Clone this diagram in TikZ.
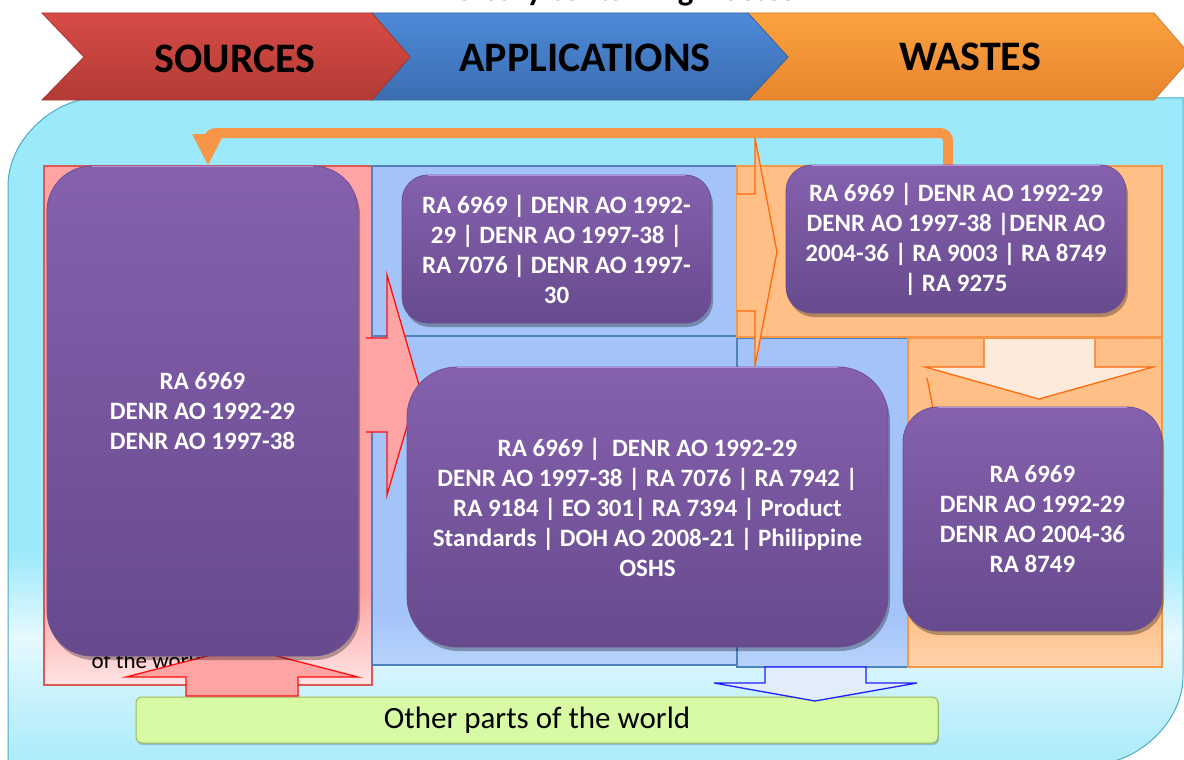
\documentclass[tikz,border=0pt]{standalone}
\usepackage{fontspec}
\setmainfont{Carlito}
\usetikzlibrary{shadows}

% palette
\definecolor{bgTop}{HTML}{9CE9FB}
\definecolor{bgLight}{HTML}{E6F9FE}
\definecolor{bgMid}{HTML}{C4F1FC}
\definecolor{bgLo}{HTML}{ABEBFA}
\definecolor{bgEdge}{HTML}{4BACC6}
\definecolor{redT}{HTML}{D84B46}
\definecolor{redB}{HTML}{B23B35}
\definecolor{redE}{HTML}{A8352F}
\definecolor{blueT}{HTML}{4C8AD8}
\definecolor{blueB}{HTML}{3C6DB1}
\definecolor{blueE}{HTML}{36639F}
\definecolor{oraT}{HTML}{FBA23F}
\definecolor{oraB}{HTML}{E8852E}
\definecolor{oraE}{HTML}{D7782A}
\definecolor{regBlue}{HTML}{A4C3F8}
\definecolor{blueLo}{HTML}{B8D4FC}
\definecolor{regBlueEdge}{HTML}{4F81BD}
\definecolor{regOrange}{HTML}{FFBF87}
\definecolor{orangeLo}{HTML}{FFD3AC}
\definecolor{regOrangeEdge}{HTML}{F79646}
\definecolor{pinkFill}{HTML}{FFA4A4}
\definecolor{pinkLo}{HTML}{FFE4E4}
\definecolor{pinkEdge}{HTML}{DB5A57}
\definecolor{fbOrange}{HTML}{F79646}
\definecolor{arrowRed}{HTML}{FF1010}
\definecolor{arrowOrange}{HTML}{FF6A0A}
\definecolor{arrowBlue}{HTML}{1E1EFF}
\definecolor{downFill}{HTML}{FDEADB}
\definecolor{blueDownFill}{HTML}{E2EDFC}
\definecolor{pTop}{HTML}{8561AE}
\definecolor{pBot}{HTML}{674A8D}
\definecolor{pEdge}{HTML}{6C5094}
\definecolor{pHi}{HTML}{B592DD}
\definecolor{greenFill}{HTML}{D8FAA4}
\definecolor{greenEdge}{HTML}{9BBB59}

% soft fades towards the lower edges
\pgfdeclareverticalshading{bgfade}{100bp}{color(0bp)=(bgLo); color(25bp)=(bgLo); color(29.5bp)=(bgMid); color(34.5bp)=(bgLight); color(41bp)=(bgTop); color(100bp)=(bgTop)}
\pgfdeclareverticalshading{srcfade}{100bp}{color(0bp)=(pinkLo); color(25bp)=(pinkLo); color(34bp)=(pinkFill); color(100bp)=(pinkFill)}
\pgfdeclareverticalshading{appfade}{100bp}{color(0bp)=(blueLo); color(25bp)=(blueLo); color(33bp)=(regBlue); color(100bp)=(regBlue)}
\pgfdeclareverticalshading{wastefade}{100bp}{color(0bp)=(orangeLo); color(25bp)=(orangeLo); color(33bp)=(regOrange); color(100bp)=(regOrange)}

\newcommand\pbfont{\fontsize{25}{30}\selectfont\bfseries}
\newcommand\headfont{\fontsize{42}{50}\selectfont\bfseries}

\begin{document}
\begin{tikzpicture}[x=1pt,y=-1pt,
  region/.style={rectangle, anchor=north west, inner sep=0pt, outer sep=0pt, line width=1.2pt},
  bluereg/.style={region, fill=regBlue, draw=regBlueEdge},
  orangereg/.style={region, fill=regOrange, draw=regOrangeEdge},
  pbox/.style={rectangle, rounded corners=#1, draw=pEdge, line width=0.8pt,
    top color=pTop, bottom color=pBot, text=white, font=\pbfont, align=center, inner sep=0pt,
    drop shadow={shadow xshift=2pt, shadow yshift=-4pt, opacity=0.3, fill=black}},
  headtext/.style={font=\headfont, text=black},
  chev/.style={line width=0.8pt, line join=miter},
  fbline/.style={draw=fbOrange, line width=10pt, rounded corners=8pt},
  blockarrow/.style={line width=1.3pt, line join=miter},
  greenbox/.style={rectangle, rounded corners=6pt, fill=greenFill, draw=greenEdge, line width=1pt,
    font=\fontsize{31}{36}\selectfont, text=black,
    drop shadow={shadow xshift=1pt, shadow yshift=-2pt, opacity=0.2, fill=black}},
]
\useasboundingbox (0,0) rectangle (1184,760);

% heading line above the banner
\node[font=\fontsize{33}{40}\selectfont\bfseries, anchor=base] (title) at (611,1) {Mercury containing wastes};

% background panel
\path[shade, shading=bgfade, draw=bgEdge, line width=1pt]
  (8,764) -- (8,186) .. controls (8,137.4) and (56.6,98) .. (96,98)
  -- (1183,98) -- (1183,676) .. controls (1183,724.6) and (1134.4,764) .. (1095,764) -- cycle;

% banner chevrons
\path[chev, top color=oraT, bottom color=oraB, draw=oraE]
  (748,13) -- (1154,13) -- (1192,57) -- (1154,100) -- (748,100) -- (788,57) -- cycle;
\path[chev, top color=blueT, bottom color=blueB, draw=blueE]
  (372,13) -- (748,13) -- (788,57) -- (748,100) -- (372,100) -- (410,57) -- cycle;
\path[chev, top color=redT, bottom color=redB, draw=redE]
  (42,13) -- (372,13) -- (410,57) -- (372,100) -- (42,100) -- (84,57) -- cycle;
\node[headtext] (hsrc) at (235,59) {SOURCES};
\node[headtext] (happ) at (585,58) {APPLICATIONS};
\node[headtext] (hwaste) at (970,57) {WASTES};

% feedback loop from wastes back to sources
\coordinate (fbfrom) at (948,168);
\coordinate (fbto) at (208,165);
\draw[fbline] (fbfrom) -- (948,133) -- (208,133) -- (208,142);
\fill[fbOrange] (192,134) -- (224,134) -- (fbto) -- cycle;

% column regions
\node[region, shade, shading=srcfade, draw=pinkEdge, minimum width=328pt, minimum height=519pt] (srcreg) at (44,166) {};
\node[region, shade, shading=appfade, draw=regBlueEdge, minimum width=365pt, minimum height=329pt] (appB) at (372,336) {};
\node[region, shade, shading=appfade, draw=regBlueEdge, minimum width=171pt, minimum height=329pt] (appC) at (737,338) {};
\node[bluereg, minimum width=365pt, minimum height=170pt] (appA) at (372,166) {};
\node[region, shade, shading=wastefade, draw=regOrangeEdge, minimum width=254pt, minimum height=329pt] (wasteE) at (908,338) {};
\node[orangereg, minimum width=425pt, minimum height=171pt] (wasteD) at (737,166) {};

% notes in the sources column
\node[anchor=base east, font=\fontsize{23}{28}\selectfont] (srcnote1) at (354,193) {ls};
\node[anchor=base west, font=\fontsize{23}{28}\selectfont] (srcnote2) at (88,668) {of the world};

% outside world
\node[greenbox, minimum width=802pt, minimum height=46pt] (world) at (537,720) {Other parts of the world};

% block arrows
\fill[pinkFill] (366,338) -- (387,338) -- (387,275) -- (419,385) -- (387,495) -- (387,432) -- (366,432) -- cycle;
\draw[blockarrow, arrowRed] (366,338) -- (387,338) -- (387,275) -- (419,385) -- (387,495) -- (387,432) -- (366,432);
\fill[regOrange] (737,194) -- (755,194) -- (755,138) -- (777,252) -- (755,366) -- (755,311) -- (737,311) -- cycle;
\draw[blockarrow, arrowOrange] (737,194) -- (755,194) -- (755,138) -- (777,252) -- (755,366) -- (755,311) -- (737,311);
\draw[blockarrow, arrowOrange] (927,378) -- (950,492);
\fill[downFill] (984,339) -- (1095,339) -- (1095,367) -- (1153,367) -- (1039,399) -- (925,367) -- (984,367) -- cycle;
\draw[blockarrow, arrowOrange] (1095,339) -- (1095,367) -- (1153,367) -- (1039,399) -- (925,367) -- (984,367) -- (984,339);
\path[blockarrow, fill=pinkFill, draw=arrowRed]
  (186,696) -- (298,696) -- (298,677) -- (358,677) -- (242,647) -- (126,677) -- (186,677) -- cycle;
\path[blockarrow, fill=blueDownFill, draw=arrowBlue]
  (765,667) -- (866,667) -- (866,683) -- (917,683) -- (815,701) -- (714,683) -- (765,683) -- cycle;

% regulation boxes
\node[pbox=45pt, minimum width=311pt, minimum height=490pt] (srcbox) at (202.5,411)
  {RA 6969\\DENR AO 1992-29\\DENR AO 1997-38};
\node[pbox=26pt, minimum width=309pt, minimum height=148pt] (appbox1) at (556.5,249)
  {RA 6969 | DENR AO 1992-\\29 | DENR AO 1997-38 |\\RA 7076 | DENR AO 1997-\\30};
\node[pbox=26pt, minimum width=340pt, minimum height=148pt] (wastebox1) at (956,239)
  {RA 6969 | DENR AO 1992-29\\DENR AO 1997-38 |DENR AO\\2004-36 | RA 9003 | RA 8749\\| RA 9275};
\node[pbox=50pt, minimum width=481pt, minimum height=280pt] (appbox2) at (647.5,507)
  {RA 6969 |~ DENR AO 1992-29\\DENR AO 1997-38 | RA 7076 | RA 7942 |\\RA 9184 | EO 301| RA 7394 | Product\\Standards | DOH AO 2008-21 | Philippine\\OSHS};
\node[pbox=35pt, minimum width=259pt, minimum height=224pt] (wastebox2) at (1032.5,519)
  {RA 6969\\DENR AO 1992-29\\DENR AO 2004-36\\RA 8749};

% light rim along the top of each regulation box
\foreach \b/\r in {srcbox/45, appbox1/26, wastebox1/26, appbox2/50, wastebox2/35}{
  \draw[pHi, line width=1.6pt]
    ([xshift=\r pt, yshift=-1pt]\b.north west) -- ([xshift=-\r pt, yshift=-1pt]\b.north east);
}
\end{tikzpicture}
\end{document}
